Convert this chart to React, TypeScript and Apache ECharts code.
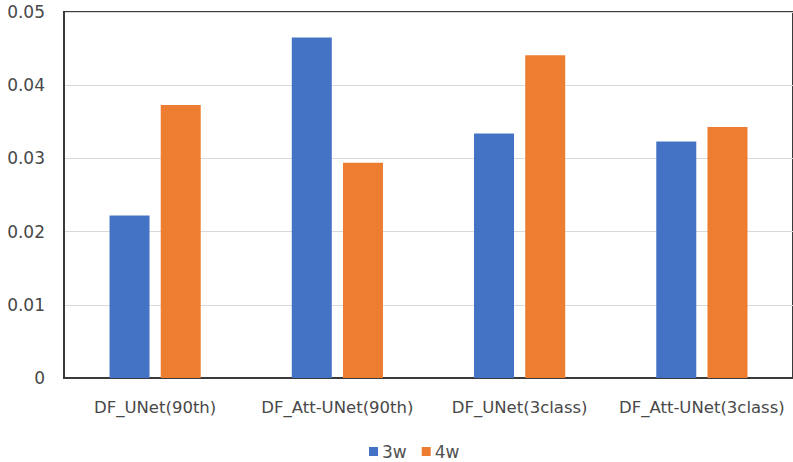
import React, { useEffect, useRef } from "react";
import * as echarts from "echarts";

const categories = ["DF_UNet(90th)", "DF_Att-UNet(90th)", "DF_UNet(3class)", "DF_Att-UNet(3class)"];
const series3w = [0.0222, 0.0465, 0.0334, 0.0323];
const series4w = [0.0373, 0.0294, 0.0441, 0.0343];
const seriesNames = ["3w", "4w"];
const yTicks = { min: 0, max: 0.05, interval: 0.01 };

const FONT = "DejaVu Sans, sans-serif";

export default function App() {
  const ref = useRef<HTMLDivElement>(null);
  useEffect(() => {
    if (!ref.current) return;
    const chart = echarts.init(ref.current, undefined, { renderer: "svg" });
    chart.setOption({
      animation: false,
      backgroundColor: "#ffffff",
      grid: {
        left: 64,
        right: -3,
        top: 12,
        bottom: 84,
        show: true,
        borderColor: "#3a3a3a",
        borderWidth: 2,
        containLabel: false,
      },
      legend: {
        data: seriesNames,
        left: 364,
        top: 438,
        itemWidth: 9,
        itemHeight: 9,
        itemGap: 15,
        icon: "rect",
        textStyle: { color: "#505050", fontSize: 17, fontFamily: FONT, padding: [0, 0, 0, -1] },
      },
      xAxis: {
        type: "category",
        data: categories,
        axisLine: { show: true, lineStyle: { color: "#3a3a3a", width: 2 } },
        axisTick: { show: false },
        axisLabel: {
          interval: 0,
          color: "#484848",
          fontSize: 16.5,
          margin: 21,
          fontFamily: FONT,
        },
      },
      yAxis: {
        type: "value",
        min: yTicks.min,
        max: yTicks.max,
        interval: yTicks.interval,
        axisLine: { show: true, lineStyle: { color: "#3a3a3a", width: 2 } },
        axisTick: { show: false },
        axisLabel: {
          color: "#484848",
          fontSize: 17,
          margin: 19,
          fontFamily: FONT,
          formatter: (v: number) => (v === 0 ? "0" : v.toFixed(2)),
        },
        splitLine: { show: true, lineStyle: { color: "#d9d9d9", width: 1 } },
      },
      series: [
        {
          name: seriesNames[0],
          type: "bar",
          data: series3w,
          barWidth: 40,
          barGap: "28%",
          itemStyle: { color: "#4472c4" },
        },
        {
          name: seriesNames[1],
          type: "bar",
          data: series4w,
          barWidth: 40,
          barGap: "28%",
          itemStyle: { color: "#ed7d31" },
        },
      ],
    });
    return () => chart.dispose();
  }, []);
  return (
    <div
      ref={ref}
      style={{ position: "fixed", left: 0, top: 0, width: 793, height: 462, background: "#fff" }}
    />
  );
}
